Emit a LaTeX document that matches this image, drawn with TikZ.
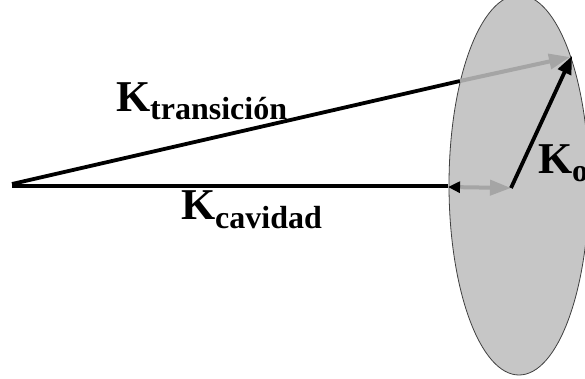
\documentclass[tikz,border=0pt]{standalone}
\usepackage{fontspec}
\setmainfont{Liberation Serif}
\usetikzlibrary{arrows.meta}
\definecolor{disc}{RGB}{198,198,198}
\definecolor{garrow}{RGB}{165,165,165}
\tikzset{
  vec/.style={line width=3.8pt, black},
  gvec/.style={line width=4pt, garrow, -{Triangle[length=21pt,width=15pt]}},
  lbl/.style={anchor=base west, inner sep=0pt, outer sep=0pt},
}
\newcommand{\bigK}[2]{{\fontsize{44}{44}\selectfont\bfseries K}\raisebox{-#2}{\fontsize{32}{32}\selectfont\bfseries #1}}
\begin{document}
\begin{tikzpicture}[x=1pt,y=-1pt]
\useasboundingbox (0,0) rectangle (585,378);
\clip (0,0) rectangle (585,378);
\fill[white] (0,0) rectangle (585,378);
\draw[fill=disc, draw=black!75, line width=0.8pt] (519,185) ellipse [x radius=70, y radius=190];
\coordinate (o) at (12,186);
\coordinate (ot) at (12,184);
\coordinate (e1) at (460,81);
\coordinate (e2) at (448,187);
\coordinate (c) at (511,188);
\coordinate (t) at (570,57);
\draw[vec] (ot) -- (e1);
\draw[vec] (o) -- (e2 |- o);
\draw[line width=4pt, garrow, {Triangle[black,length=12pt,width=11pt]}-{Triangle[garrow,length=21pt,width=15pt]}] (e2) -- (c);
\draw[gvec] (e1) -- (t);
\draw[vec, -{Triangle[length=18pt,width=14pt]}] (c) -- ([shift={(2,-1)}]t);
\node[lbl] (lt) at (116,111) {\bigK{transición}{8pt}};
\node[lbl] (lc) at (181,219) {\bigK{cavidad}{9pt}};
\node[lbl] (lo) at (538,173) {\bigK{o}{8pt}};
\end{tikzpicture}
\end{document}
